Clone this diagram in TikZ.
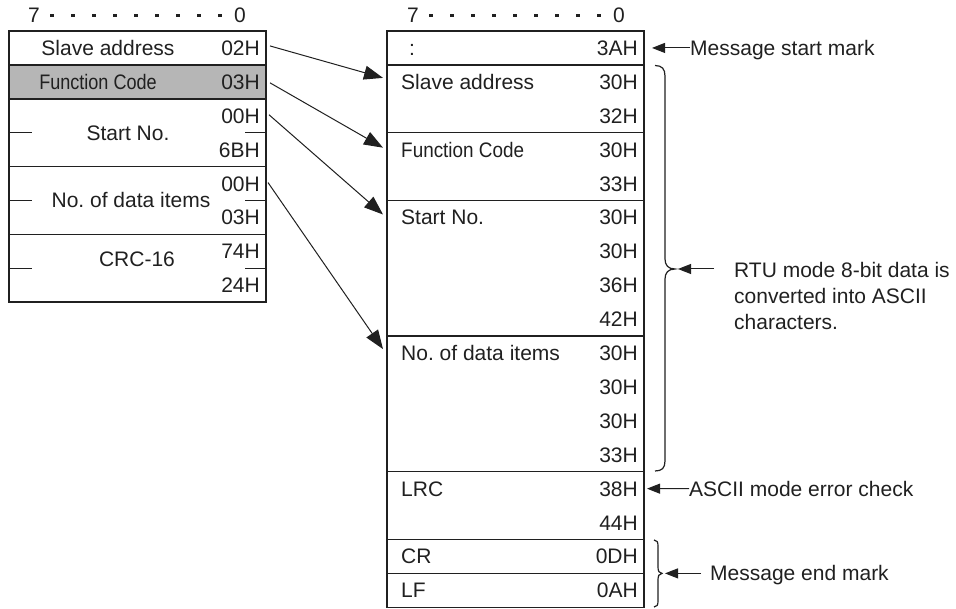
\documentclass[tikz,border=0pt]{standalone}
\usepackage{graphicx}
\usepackage{fontspec}
\setmainfont{Liberation Sans}
\usetikzlibrary{arrows.meta,calc}
\definecolor{ink}{RGB}{32,32,32}
\definecolor{cellgray}{RGB}{182,182,182}
\frenchspacing
\begin{document}
\begin{tikzpicture}[x=1pt,y=-1pt,
  cell/.style={draw=ink,line width=1.5pt,inner sep=0pt,outer sep=0pt,anchor=north west,minimum width=257pt},
  txt/.style={font=\fontsize{21}{26}\selectfont,text=ink,inner sep=0pt,text height=15pt,text depth=0pt},
  txtml/.style={font=\fontsize{21}{26}\selectfont,text=ink,inner sep=0pt,align=left,anchor=west},
  hex/.style={txt,anchor=east},
  lab/.style={txt,anchor=west},
  tick/.style={draw=ink,line width=1.3pt},
  bigarrow/.style={draw=ink,line width=1pt,-{Triangle[length=19pt,width=14pt]}},
  smallarrow/.style={draw=ink,line width=1pt,-{Triangle[length=13pt,width=10pt]}},
  bracestyle/.style={draw=ink,line width=1.2pt}
]
\useasboundingbox (0,0) rectangle (956,609);

% headers
\node[txt] (h7l) at (34,15.5) {7};
\node[txt] (h0l) at (240,15.5) {0};
\foreach \k in {0,...,8} \fill[ink] ({52+21*\k-1.6},14) rectangle ++(3.2,3.2);
\node[txt] (h7r) at (413,15.5) {7};
\node[txt] (h0r) at (619,15.5) {0};
\foreach \k in {0,...,8} \fill[ink] ({431+21*\k-1.6},14) rectangle ++(3.2,3.2);

% left table
\node[cell,minimum height=33.9pt] (ls) at (9,31) {};
\node[cell,fill=cellgray,minimum height=33.9pt] (lf) at (9,64.9) {};
\node[cell,minimum height=67.8pt] (lst) at (9,98.8) {};
\node[cell,minimum height=67.8pt] (lnd) at (9,166.6) {};
\node[cell,minimum height=67.8pt] (lcrc) at (9,234.4) {};

\foreach \h [count=\i from 0] in {02H,03H,00H,6BH,00H,03H,74H,24H}
  \node[hex] (lh\i) at (260,{31+33.9*(\i+0.5)}) {\h};

\node[txt] (lsl) at (108,47.95) {Slave address};
\node[txt] (lfl) at (98,81.85) {\scalebox{0.86}[1]{Function Code}};
\node[txt] (lstl) at (128,132.7) {Start No.};
\node[txt] (lndl) at (131,200.5) {No. of data items};
\node[txt] (lcrcl) at (137,259) {CRC-16};

\foreach \r in {lst,lnd,lcrc}{
  \draw[tick] (\r.west) -- ++(23,0);
  \draw[tick] (\r.east) -- ++(-21,0);
}

% right table
\node[cell,minimum height=33.9pt] (rc) at (387,31) {};
\node[cell,minimum height=67.8pt] (rsa) at (387,64.9) {};
\node[cell,minimum height=67.8pt] (rfc) at (387,132.7) {};
\node[cell,minimum height=135.6pt] (rst) at (387,200.5) {};
\node[cell,minimum height=135.6pt] (rnd) at (387,336.1) {};
\node[cell,minimum height=67.8pt] (rlrc) at (387,471.7) {};
\node[cell,minimum height=33.9pt] (rcr) at (387,539.5) {};
\node[cell,minimum height=33.9pt] (rlf) at (387,573.4) {};

\foreach \h [count=\i from 0] in {3AH,30H,32H,30H,33H,30H,30H,36H,42H,30H,30H,30H,33H,38H,44H,0DH,0AH}
  \node[hex] (rh\i) at (638,{31+33.9*(\i+0.5)}) {\h};

\node[lab] (rcl) at (409,47.95) {:};
\node[lab] (rsal) at (401,81.85) {Slave address};
\node[lab] (rfcl) at (401,149.65) {\scalebox{0.9}[1]{Function Code}};
\node[lab] (rstl) at (401,217.45) {Start No.};
\node[lab] (rndl) at (401,353.05) {No. of data items};
\node[lab] (rlrcl) at (401,488.65) {LRC};
\node[lab] (rcrl) at (401,556.45) {CR};
\node[lab] (rlfl) at (401,590.35) {LF};

% mapping arrows
\draw[bigarrow] ($(lh0.east)+(10,-2)$) -- ($(rsa.north west)+(-4,13)$);
\draw[bigarrow] ($(lh1.east)+(10,1)$) -- ($(rfc.north west)+(-4,15)$);
\draw[bigarrow] ($(lh2.east)+(9,-1)$) -- ($(rst.north west)+(-4,14)$);
\draw[bigarrow] ($(lh4.east)+(8,-1)$) -- ($(rnd.north west)+(-4,13)$);

% message start mark
\node[lab] (msm) at (690,47.95) {Message start mark};
\draw[smallarrow] (msm.west) -- ($(rc.east)+(8,0)$);

% big brace
\draw[bracestyle] (655,65.5) .. controls (662,65.5) and (665,69) .. (665,76)
  -- (665,259) .. controls (665,265) and (668,269) .. (675,269)
  .. controls (668,269) and (665,273) .. (665,279)
  -- (665,461) .. controls (665,468) and (662,471) .. (655,471);
\coordinate (b1tip) at (675,269);
\coordinate (rtuarr) at (714,269);
\draw[smallarrow] (rtuarr) -- ($(b1tip)+(3,0)$);
\node[txtml] (rtu) at (734,296) {RTU mode 8-bit data is\\converted into ASCII\\characters.};

% error check
\node[lab] (aec) at (689,488.65) {ASCII mode error check};
\draw[smallarrow] (aec.west) -- ($(rh13.east)+(9,0)$);

% end brace
\draw[bracestyle] (654,540) .. controls (657,540) and (658,542) .. (658,546)
  -- (658,567) .. controls (658,571) and (659,573.4) .. (662,573.4)
  .. controls (659,573.4) and (658,576) .. (658,580)
  -- (658,601) .. controls (658,605) and (657,607) .. (654,607);
\coordinate (b2tip) at (662,573.4);
\node[lab] (mem) at (710,573.4) {Message end mark};
\draw[smallarrow] ($(mem.west)+(-9,0)$) -- ($(b2tip)+(3,0)$);
\end{tikzpicture}
\end{document}
